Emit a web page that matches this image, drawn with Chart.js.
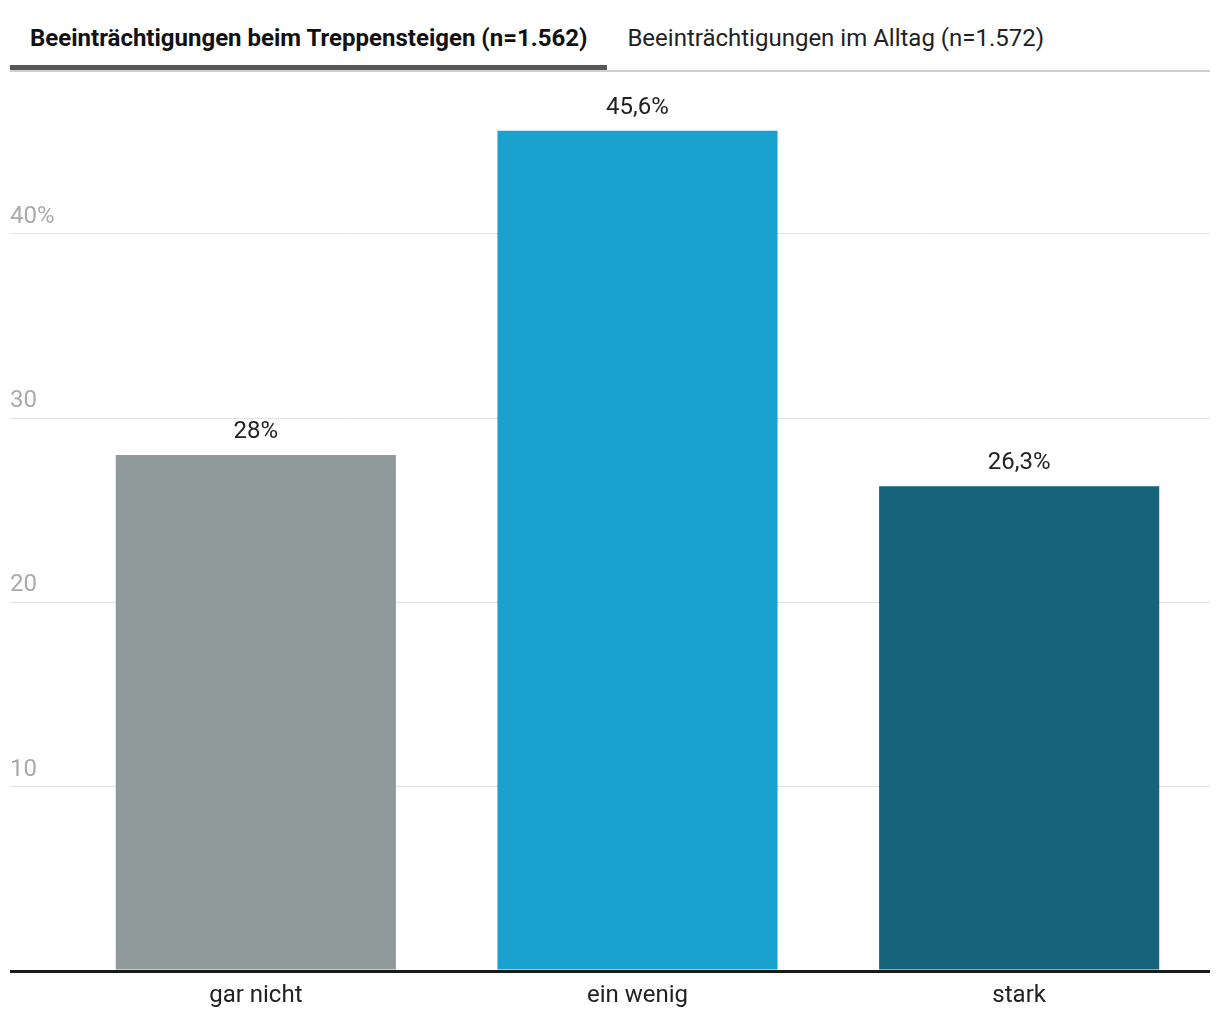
<!DOCTYPE html>
<html lang="de">
<head>
<meta charset="utf-8">
<title>Beeinträchtigungen</title>
<script src="https://cdn.jsdelivr.net/npm/chart.js@4/dist/chart.umd.min.js"></script>
<style>
  html, body { margin: 0; padding: 0; background: #fff; font-family: Roboto, sans-serif; }
  .page { position: relative; width: 1220px; height: 1020px; overflow: hidden; }
  .tabs { position: absolute; left: 10px; top: 0; width: 1200px; height: 72px; border-bottom: 2px solid #d0d0d0; box-sizing: border-box; display: flex; }
  .tab { padding: 0 20px; height: 70px; line-height: 76px; font-size: 24px; color: #222; white-space: nowrap; box-sizing: border-box; }
  .tab.active { font-weight: bold; color: #111; border-bottom: 5px solid #575757; }
  .chart-box { position: absolute; left: 0; top: 72px; width: 1220px; height: 952px; }
</style>
</head>
<body>
<div class="page">
  <div class="tabs">
    <div class="tab active">Beeinträchtigungen beim Treppensteigen (n=1.562)</div>
    <div class="tab">Beeinträchtigungen im Alltag (n=1.572)</div>
  </div>
  <div class="chart-box"><canvas id="chart"></canvas></div>
</div>
<script>
const categories = ['gar nicht', 'ein wenig', 'stark'];
const values = [28, 45.6, 26.3];
const barColors = ['#919a9a', '#1aa1cd', '#17637b'];
const yTicks = [0, 10, 20, 30, 40];

// value labels above bars, German decimal comma
const valueLabels = {
  id: 'valueLabels',
  afterDatasetsDraw(chart) {
    const ctx = chart.ctx;
    const meta = chart.getDatasetMeta(0);
    ctx.save();
    ctx.font = '24px Roboto, sans-serif';
    ctx.fillStyle = '#222';
    ctx.textAlign = 'center';
    ctx.textBaseline = 'middle';
    meta.data.forEach((bar, i) => {
      const txt = String(values[i]).replace('.', ',') + '%';
      ctx.fillText(txt, bar.x, bar.y - 23);
    });
    ctx.restore();
  }
};

new Chart(document.getElementById('chart'), {
  type: 'bar',
  data: {
    labels: categories,
    datasets: [{
      data: values,
      backgroundColor: barColors,
      categoryPercentage: 1,
      barPercentage: 0.734
    }]
  },
  options: {
    responsive: true,
    maintainAspectRatio: false,
    animation: false,
    layout: { padding: { top: 12, left: 10, right: 10, bottom: 2.2 } },
    plugins: { legend: { display: false }, tooltip: { enabled: false } },
    scales: {
      x: {
        grid: { display: false, drawTicks: false },
        border: { display: false },
        ticks: { color: '#222', font: { family: 'Roboto', size: 24 }, padding: 11 }
      },
      y: {
        min: 0,
        max: 48,
        afterBuildTicks: s => { s.ticks = yTicks.map(v => ({ value: v })); },
        afterFit: s => { s.width = 55; },
        border: { display: false },
        grid: {
          drawTicks: true,
          tickLength: 55,
          color: c => (c.tick && c.tick.value === 0) ? '#1a1a1a' : '#e3e3e3',
          lineWidth: c => (c.tick && c.tick.value === 0) ? 3 : 1
        },
        ticks: {
          crossAlign: 'far',
          padding: 0,
          labelOffset: -17,
          color: '#aaa',
          font: { family: 'Roboto', size: 24 },
          callback: v => v === 0 ? '' : (v === 40 ? '40%' : String(v))
        }
      }
    }
  },
  plugins: [valueLabels]
});
</script>
</body>
</html>
